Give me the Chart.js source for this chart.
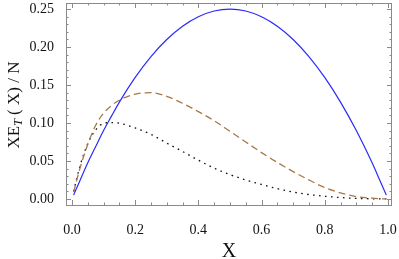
<!DOCTYPE html>
<html>
<head>
<meta charset="utf-8">
<script src="https://cdn.jsdelivr.net/npm/chart.js@4.4.0/dist/chart.umd.min.js"></script>
<style>
  html, body { margin: 0; padding: 0; background: #fff; }
  #wrap { width: 399px; height: 259px; }
</style>
</head>
<body>
<div id="wrap"><canvas id="chart"></canvas></div>
<script>
// X grid shared by all three curves
const xValues = [0.005, 0.025, 0.05, 0.075, 0.1, 0.125, 0.15, 0.2, 0.25, 0.3, 0.35, 0.4, 0.45,
                 0.5, 0.55, 0.6, 0.65, 0.7, 0.75, 0.8, 0.85, 0.9, 0.95, 0.975, 0.995];

// solid blue
const blueValues = [0.005, 0.024, 0.0475, 0.069, 0.09, 0.109, 0.1275, 0.16, 0.1875, 0.21, 0.2275, 0.24, 0.2475,
                    0.25, 0.2475, 0.24, 0.2275, 0.21, 0.1875, 0.16, 0.1275, 0.09, 0.0475, 0.024, 0.005];
// dashed brown
const brownValues = [0.009, 0.040, 0.072, 0.097, 0.113, 0.123, 0.130, 0.138, 0.140, 0.135, 0.126, 0.115, 0.103,
                     0.089, 0.075, 0.061, 0.048, 0.036, 0.025, 0.015, 0.008, 0.003, 0.001, 0.0003, 0.0];
// dotted black
const blackValues = [0.010, 0.043, 0.073, 0.091, 0.0995, 0.1005, 0.0998, 0.0935, 0.085, 0.0735, 0.0625, 0.051, 0.0405,
                     0.032, 0.025, 0.019, 0.0135, 0.009, 0.0058, 0.0035, 0.0018, 0.0006, 0.0002, 0.0001, 0.0];

const xTickLabels = [0, 0.2, 0.4, 0.6, 0.8, 1.0];
const yTickLabels = [0, 0.05, 0.10, 0.15, 0.20, 0.25];

const SERIF = "'Liberation Serif', 'DejaVu Serif', serif";

function toPoints(ys) {
    return xValues.map((x, i) => ({ x: x, y: ys[i] }));
}

// Mathematica-like frame with inward ticks on all four sides, plus the y title
const framePlugin = {
    id: 'frame',
    afterDraw(chart) {
        const ctx = chart.ctx;
        const a = chart.chartArea;
        const xs = chart.scales.x;
        const ys = chart.scales.y;
        ctx.save();
        ctx.strokeStyle = '#8a8a8a';
        ctx.lineWidth = 1;
        ctx.strokeRect(a.left + 0.5, a.top + 0.5, a.right - a.left - 1, a.bottom - a.top);

        ctx.beginPath();
        for (let i = 0; i <= 20; i++) {
            const v = i * 0.05;
            const len = (i % 4 === 0) ? 5 : 2.5;
            const px = Math.round(xs.getPixelForValue(v)) + 0.5;
            ctx.moveTo(px, a.bottom); ctx.lineTo(px, a.bottom - len);
            ctx.moveTo(px, a.top); ctx.lineTo(px, a.top + len);
        }
        for (let i = 0; i <= 25; i++) {
            const v = i * 0.01;
            const len = (i % 5 === 0) ? 5 : 2.5;
            const py = Math.round(ys.getPixelForValue(v)) + 0.5;
            ctx.moveTo(a.left, py); ctx.lineTo(a.left + len, py);
            ctx.moveTo(a.right, py); ctx.lineTo(a.right - len, py);
        }
        ctx.stroke();

        // y title: XE_T ( X) / N
        const big = '17px ' + SERIF;
        const sub = 'italic 12px ' + SERIF;
        ctx.font = big;
        const w1 = ctx.measureText('XE').width;
        const w3 = ctx.measureText(' ( X) / N').width;
        ctx.font = sub;
        const w2 = ctx.measureText('T').width;
        const total = w1 + w2 + w3;
        ctx.translate(15, 105);
        ctx.rotate(-Math.PI / 2);
        ctx.fillStyle = '#111';
        ctx.textBaseline = 'middle';
        ctx.textAlign = 'left';
        let cx = -total / 2;
        ctx.font = big;
        ctx.fillText('XE', cx, 0);
        cx += w1;
        ctx.font = sub;
        ctx.fillText('T', cx, 4);
        cx += w2;
        ctx.font = big;
        ctx.fillText(' ( X) / N', cx, 0);
        ctx.restore();
    }
};

new Chart(document.getElementById('chart'), {
    type: 'scatter',
    data: {
        datasets: [
            { data: toPoints(blueValues), borderColor: '#2a2aff', borderWidth: 1.2 },
            { data: toPoints(brownValues), borderColor: '#a8784a', borderWidth: 1.3, borderDash: [7, 4] },
            { data: toPoints(blackValues), borderColor: '#111', borderWidth: 1.3, borderDash: [1.6, 4.4] }
        ].map(d => Object.assign(d, { showLine: true, pointRadius: 0, fill: false, cubicInterpolationMode: 'monotone' }))
    },
    options: {
        responsive: true,
        maintainAspectRatio: false,
        animation: false,
        layout: { padding: { top: 3, right: 7, left: 0, bottom: 0 } },
        plugins: { legend: { display: false }, tooltip: { enabled: false } },
        scales: {
            x: {
                type: 'linear',
                min: -0.019,
                max: 1.013,
                grid: { display: false },
                border: { display: false },
                afterBuildTicks: s => { s.ticks = xTickLabels.map(v => ({ value: v })); },
                afterFit: s => { s.height = 54; s.paddingLeft = 0; s.paddingRight = 0; },
                ticks: {
                    padding: 9,
                    color: '#111',
                    font: { family: SERIF, size: 14 },
                    maxRotation: 0,
                    callback: v => v.toFixed(1)
                },
                title: {
                    display: true,
                    text: 'X',
                    color: '#111',
                    padding: { top: 0, bottom: 0 },
                    font: { family: SERIF, size: 20, lineHeight: 0.7 }
                }
            },
            y: {
                type: 'linear',
                min: -0.008,
                max: 0.258,
                grid: { display: false },
                border: { display: false },
                afterBuildTicks: s => { s.ticks = yTickLabels.map(v => ({ value: v })); },
                afterFit: s => { s.width = 66; s.paddingTop = 0; s.paddingBottom = 0; },
                ticks: {
                    padding: 4,
                    color: '#111',
                    font: { family: SERIF, size: 14 },
                    callback: v => v.toFixed(2)
                }
            }
        }
    },
    plugins: [framePlugin]
});
</script>
</body>
</html>
